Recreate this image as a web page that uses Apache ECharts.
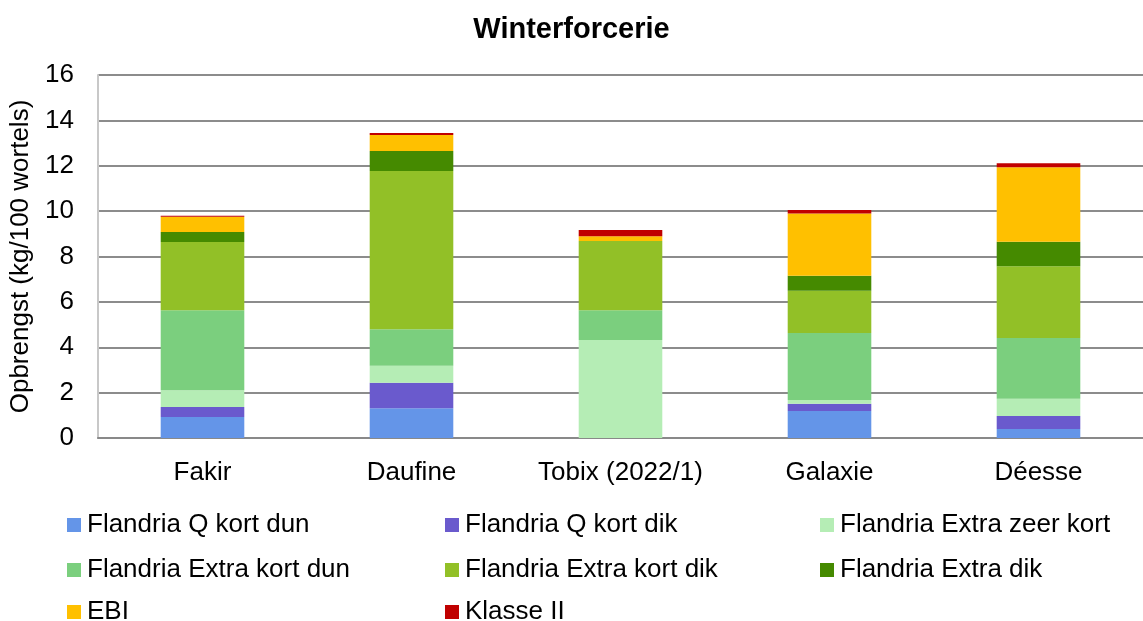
<!DOCTYPE html>
<html>
<head>
<meta charset="utf-8">
<script src="https://cdn.jsdelivr.net/npm/echarts@6/dist/echarts.min.js"></script>
<style>
  html, body { margin: 0; padding: 0; background: #fff; }
  #chart { width: 1143px; height: 621px; }
</style>
</head>
<body>
<div id="chart"></div>
<script>
// categorieën (rassen)
const categories = ['Fakir', 'Daufine', 'Tobix (2022/1)', 'Galaxie', 'Déesse'];

// sorteringen, van onder naar boven gestapeld
const seriesNames = [
  'Flandria Q kort dun',
  'Flandria Q kort dik',
  'Flandria Extra zeer kort',
  'Flandria Extra kort dun',
  'Flandria Extra kort dik',
  'Flandria Extra dik',
  'EBI',
  'Klasse II'
];

const qKortDun = [0.93, 1.31, 0, 1.19, 0.40];
const qKortDik = [0.44, 1.13, 0, 0.32, 0.57];
const extraZeerKort = [0.73, 0.75, 4.32, 0.16, 0.76];
const extraKortDun = [3.53, 1.60, 1.31, 2.96, 2.68];
const extraKortDik = [3.01, 6.98, 3.05, 1.86, 3.16];
const extraDik = [0.44, 0.88, 0, 0.66, 1.08];
const ebi = [0.67, 0.70, 0.21, 2.74, 3.28];
const klasseII = [0.05, 0.09, 0.28, 0.16, 0.18];

const yTicks = [0, 2, 4, 6, 8, 10, 12, 14, 16];

const colors = ['#6495e8', '#6a5acd', '#b5edb5', '#7bcf7e', '#92c027', '#458a00', '#ffc000', '#c00000'];
const values = [qKortDun, qKortDik, extraZeerKort, extraKortDun, extraKortDik, extraDik, ebi, klasseII];

const font = 'Liberation Sans, Arial, sans-serif';
const fs = 26;

// legenda in drie kolommen
const legendCols = [67, 445, 820];
const legendRows = [512, 557, 599];
const legends = seriesNames.map((name, i) => ({
  data: [name],
  left: legendCols[i % 3],
  top: legendRows[Math.floor(i / 3)],
  padding: 0,
  icon: 'rect',
  itemWidth: 14,
  itemHeight: 14,
  itemGap: 0,
  selectedMode: false,
  textStyle: { fontFamily: font, fontSize: fs, color: '#000', padding: [0, 0, 0, 1] }
}));

const chart = echarts.init(document.getElementById('chart'));

chart.setOption({
  animation: false,
  title: {
    text: 'Winterforcerie',
    left: 'center',
    top: 10,
    textStyle: { fontFamily: font, fontSize: 29, fontWeight: 'bold', color: '#000' }
  },
  legend: legends,
  grid: { left: 98, right: 0, top: 75, bottom: 183, outerBoundsMode: 'none' },
  xAxis: {
    type: 'category',
    data: categories,
    axisLine: { lineStyle: { color: '#898989', width: 2 } },
    axisTick: { show: false },
    axisLabel: { fontFamily: font, fontSize: fs, color: '#000', margin: 22, interval: 0 }
  },
  yAxis: {
    type: 'value',
    min: yTicks[0],
    max: yTicks[yTicks.length - 1],
    interval: 2,
    name: 'Opbrengst (kg/100 wortels)',
    nameLocation: 'middle',
    nameGap: 63,
    nameTextStyle: { fontFamily: font, fontSize: fs, color: '#000' },
    axisLine: { show: true, lineStyle: { color: '#c8c8c8', width: 2 } },
    axisTick: { show: false },
    axisLabel: { fontFamily: font, fontSize: fs, color: '#000', margin: 24 },
    splitLine: { lineStyle: { color: '#8c8c8c', width: 2 } }
  },
  series: seriesNames.map((name, i) => ({
    name: name,
    type: 'bar',
    stack: 'totaal',
    barWidth: '40%',
    data: values[i],
    itemStyle: { color: colors[i] }
  }))
});
</script>
</body>
</html>
